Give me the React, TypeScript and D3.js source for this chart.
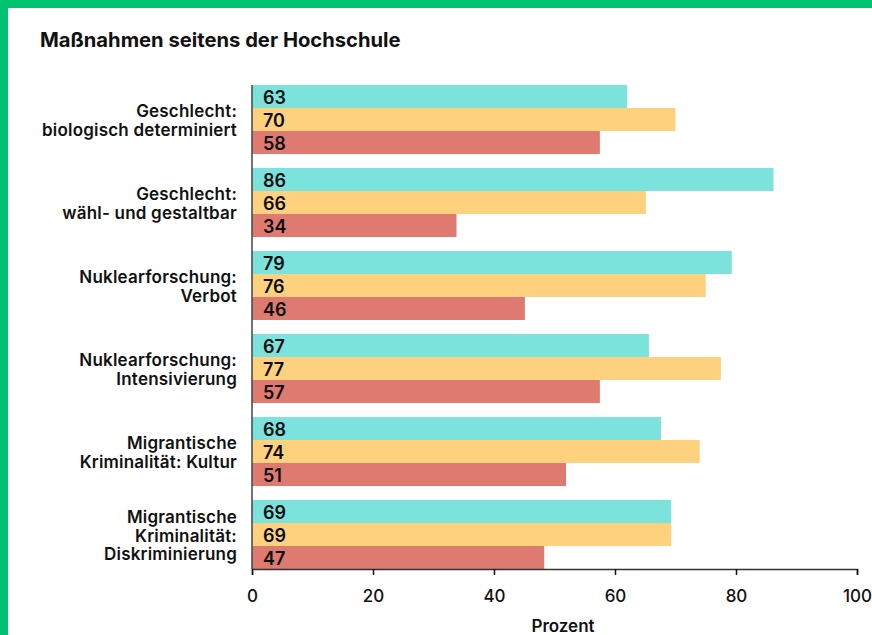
import React, { useRef, useEffect } from "react";
import * as d3 from "d3";

// Kategorien (mehrzeilige Beschriftungen)
const categories = [
  "Geschlecht: biologisch determiniert",
  "Geschlecht: wähl- und gestaltbar",
  "Nuklearforschung: Verbot",
  "Nuklearforschung: Intensivierung",
  "Migrantische Kriminalität: Kultur",
  "Migrantische Kriminalität: Diskriminierung",
];
const categoryLines = [
  ["Geschlecht:", "biologisch determiniert"],
  ["Geschlecht:", "wähl- und gestaltbar"],
  ["Nuklearforschung:", "Verbot"],
  ["Nuklearforschung:", "Intensivierung"],
  ["Migrantische", "Kriminalität: Kultur"],
  ["Migrantische", "Kriminalität:", "Diskriminierung"],
];

const seriesKeys = ["a", "b", "c"];
const seriesColors = ["#7be3dc", "#fed17f", "#de7a6f"];

// Balkenlängen und angezeigte Werte
const seriesA = [62, 86.2, 79.3, 65.6, 67.6, 69.3];
const seriesB = [70, 65.1, 75, 77.5, 74, 69.3];
const seriesC = [57.5, 33.8, 45.1, 57.5, 51.9, 48.3];
const labelsA = [63, 86, 79, 67, 68, 69];
const labelsB = [70, 66, 76, 77, 74, 69];
const labelsC = [58, 34, 46, 57, 51, 47];

const xTicks = [0, 20, 40, 60, 80, 100];

const FONT = "Inter, 'Noto Sans', sans-serif";

const App = () => {
  const svgRef = useRef<SVGSVGElement>(null);

  useEffect(() => {
    document.body.style.margin = "0";
    document.body.style.overflow = "hidden";

    const width = 872;
    const height = 635;

    const svg = d3
      .select(svgRef.current)
      .attr("width", width)
      .attr("height", height)
      .html("");

    // Rahmen
    svg.append("rect").attr("width", width).attr("height", height).attr("fill", "#00c372");
    svg
      .append("rect")
      .attr("x", 8)
      .attr("y", 8)
      .attr("width", width - 8)
      .attr("height", height - 8)
      .attr("fill", "#ffffff");

    svg
      .append("text")
      .attr("x", 40)
      .attr("y", 47)
      .attr("font-family", FONT)
      .attr("font-size", 20.2)
      .attr("font-weight", 700)
      .attr("fill", "#111")
      .text("Maßnahmen seitens der Hochschule");

    const x = d3.scaleLinear().domain([0, 100]).range([252, 857]);
    const y = d3.scaleBand().domain(categories).range([85, 569]).paddingInner(14 / 83);
    const ySub = d3.scaleBand().domain(seriesKeys).range([0, y.bandwidth()]);

    const values = [seriesA, seriesB, seriesC];
    const labels = [labelsA, labelsB, labelsC];

    categories.forEach((cat, i) => {
      const g = svg.append("g").attr("transform", `translate(0,${y(cat)})`);
      seriesKeys.forEach((k, s) => {
        g.append("rect")
          .attr("x", x(0))
          .attr("y", ySub(k))
          .attr("width", x(values[s][i]) - x(0))
          .attr("height", ySub.bandwidth())
          .attr("fill", seriesColors[s]);
        g.append("text")
          .attr("x", x(0) + 11)
          .attr("y", ySub(k)! + ySub.bandwidth() / 2 + 7.5)
          .attr("font-family", FONT)
          .attr("font-size", 18)
          .attr("font-weight", 560)
          .attr("fill", "#0d0d0d")
          .text(labels[s][i]);
      });

      // Kategoriebeschriftung
      const lines = categoryLines[i];
      const lh = 18.5;
      const cy = y(cat)! + y.bandwidth() / 2;
      const t = svg
        .append("text")
        .attr("text-anchor", "end")
        .attr("font-family", FONT)
        .attr("font-size", 17)
        .attr("letter-spacing", 0.2)
        .attr("font-weight", 600)
        .attr("fill", "#111");
      lines.forEach((line, j) => {
        t.append("tspan")
          .attr("x", 237)
          .attr("y", cy + (j - (lines.length - 1) / 2) * lh + 7)
          .text(line);
      });
    });

    // Achsen
    svg
      .append("line")
      .attr("x1", x(0))
      .attr("x2", x(0))
      .attr("y1", 85)
      .attr("y2", 569)
      .attr("stroke", "#444")
      .attr("stroke-width", 1.5);

    const xAxis = svg
      .append("g")
      .attr("transform", "translate(0,569)")
      .call(d3.axisBottom(x).tickValues(xTicks).tickSize(6).tickPadding(14.5));
    xAxis.select(".domain").attr("stroke", "#333").attr("stroke-width", 1.5);
    xAxis.selectAll(".tick line").attr("stroke", "#111").attr("stroke-width", 1.5);
    xAxis
      .selectAll(".tick text")
      .attr("font-family", FONT)
      .attr("font-size", 17)
      .attr("font-weight", 500)
      .attr("fill", "#111");

    svg
      .append("text")
      .attr("x", 563)
      .attr("y", 632)
      .attr("text-anchor", "middle")
      .attr("font-family", FONT)
      .attr("font-size", 17)
      .attr("font-weight", 600)
      .attr("fill", "#111")
      .text("Prozent");
  }, []);

  return <svg ref={svgRef} style={{ display: "block" }} />;
};

export default App;
